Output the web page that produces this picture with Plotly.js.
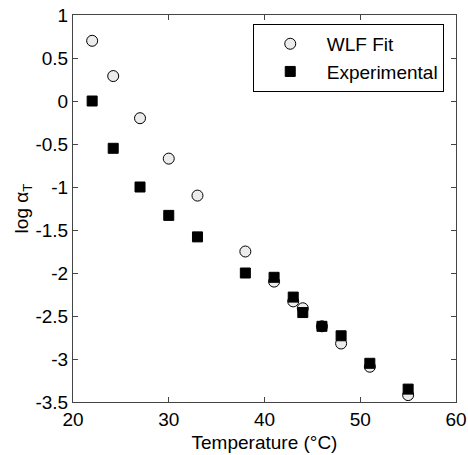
<!DOCTYPE html>
<html>
<head>
<meta charset="utf-8">
<script src="https://cdn.plot.ly/plotly-3.0.1.min.js"></script>
<style>html,body{margin:0;padding:0;background:#fff;}#chart{width:468px;height:455px;}</style>
</head>
<body>
<div id="chart"></div>
<script>
const temperature = [22, 24.2, 27, 30, 33, 38, 41, 43, 44, 46, 48, 51, 55];
const wlfFit = [0.7, 0.29, -0.2, -0.67, -1.1, -1.75, -2.1, -2.33, -2.41, -2.62, -2.82, -3.09, -3.42];
const experimental = [0, -0.55, -1.0, -1.33, -1.58, -2.0, -2.05, -2.28, -2.46, -2.62, -2.73, -3.05, -3.35];
const xTicks = [20, 30, 40, 50, 60];
const yTicks = [1, 0.5, 0, -0.5, -1, -1.5, -2, -2.5, -3, -3.5];

const font = {family: 'Liberation Sans, Arial, sans-serif', size: 19, color: '#000'};

const traces = [
  {
    x: temperature, y: wlfFit, name: 'WLF Fit', mode: 'markers', type: 'scatter',
    marker: {symbol: 'circle', size: 11, color: '#ececec', line: {color: '#000', width: 1}}
  },
  {
    x: temperature, y: experimental, name: 'Experimental', mode: 'markers', type: 'scatter',
    marker: {symbol: 'square', size: 10, color: '#000', line: {color: '#000', width: 1}}
  }
];

const axisCommon = {
  showline: true, linecolor: '#444', linewidth: 1, mirror: 'ticks',
  ticks: 'inside', ticklen: 5, tickcolor: '#444', tickwidth: 1,
  showgrid: false, zeroline: false, tickfont: font
};

const layout = {
  width: 468, height: 455,
  margin: {l: 73, r: 12, t: 15, b: 53},
  paper_bgcolor: '#fff', plot_bgcolor: '#fff',
  font: font,
  showlegend: true,
  legend: {
    x: 0.968, y: 0.977, xanchor: 'right', yanchor: 'top',
    bordercolor: '#000', borderwidth: 1, bgcolor: '#fff',
    font: font, itemwidth: 63, tracegroupgap: 0
  },
  xaxis: Object.assign({}, axisCommon, {
    range: [20, 60], tickvals: xTicks, ticktext: xTicks.map(String),
    title: {text: 'Temperature (°C)', font: font, standoff: 6}
  }),
  yaxis: Object.assign({}, axisCommon, {
    range: [-3.5, 1], tickvals: yTicks, ticktext: yTicks.map(String),
    title: {text: 'log α<sub>T</sub>', font: font, standoff: 0}
  })
};

Plotly.newPlot('chart', traces, layout, {displayModeBar: false, staticPlot: true});
</script>
</body>
</html>
